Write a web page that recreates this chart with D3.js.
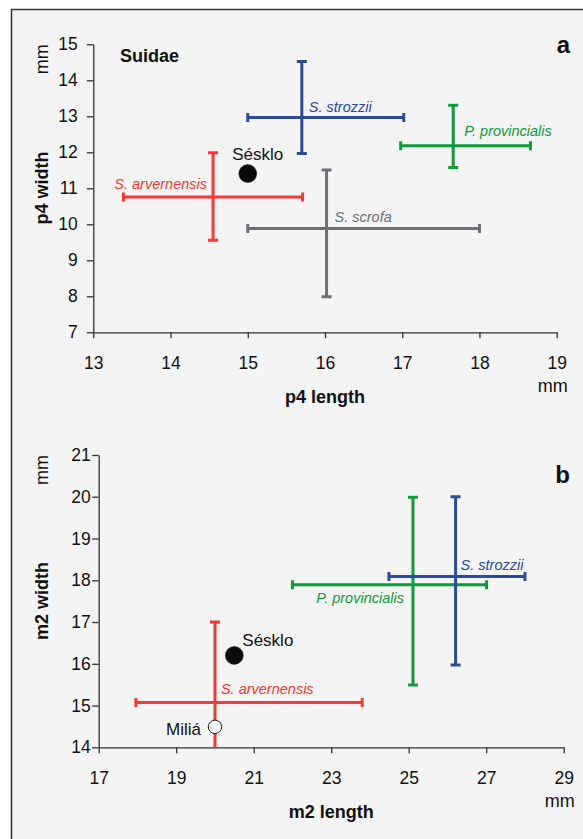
<!DOCTYPE html>
<html>
<head>
<meta charset="utf-8">
<script src="https://cdn.jsdelivr.net/npm/d3@7"></script>
<style>
  body { margin: 0; background: #fff; }
  text { font-family: "Liberation Sans", Arial, sans-serif; }
</style>
</head>
<body>
<div id="chart"></div>
<script>
// panel a : p4 (mean with range bars), mm
var speciesA = ["S. strozzii", "P. provincialis", "S. scrofa", "S. arvernensis"];
var lenMeanA = [15.70, 17.66, 16.02, 14.55];
var lenMinA  = [15.00, 16.98, 15.00, 13.39];
var lenMaxA  = [17.02, 18.66, 18.00, 15.71];
var widMeanA = [12.97, 12.18, 9.88, 10.76];
var widMinA  = [11.97, 11.58, 7.99, 9.56];
var widMaxA  = [14.52, 13.31, 11.51, 11.99];
var sitesA   = [{ name: "Sésklo", len: 15.0, wid: 11.41, open: false }];

// panel b : m2, mm
var speciesB = ["S. arvernensis", "P. provincialis", "S. strozzii"];
var lenMeanB = [20.0, 25.11, 26.21];
var lenMinB  = [17.96, 22.0, 24.49];
var lenMaxB  = [23.8, 27.01, 28.0];
var widMeanB = [15.07, 17.89, 18.09];
var widMinB  = [13.6, 15.49, 15.97];
var widMaxB  = [17.0, 19.99, 20.0];
var sitesB   = [{ name: "Sésklo", len: 20.5, wid: 16.2, open: false },
                { name: "Miliá", len: 20.0, wid: 14.49, open: true }];

var ticksXA = [13, 14, 15, 16, 17, 18, 19];
var ticksYA = [7, 8, 9, 10, 11, 12, 13, 14, 15];
var ticksXB = [17, 19, 21, 23, 25, 27, 29];
var ticksYB = [14, 15, 16, 17, 18, 19, 20, 21];

var colour = {
  "S. strozzii": "#2b4a98",
  "P. provincialis": "#0f9a3b",
  "S. scrofa": "#6c7178",
  "S. arvernensis": "#ff3535"
};

var W = 583, H = 839;
var svg = d3.select("#chart").append("svg")
  .attr("width", W).attr("height", H);

// frame
svg.append("rect")
  .attr("x", 11.5).attr("y", 9.5)
  .attr("width", 620).attr("height", 900)
  .attr("fill", "#f4f4f4")
  .attr("stroke", "#333").attr("stroke-width", 1.5);

function panel(p) {
  var x = d3.scaleLinear().domain(p.xDom).range([p.left, p.right]);
  var y = d3.scaleLinear().domain(p.yDom).range([p.bottom, p.top]);

  var g = svg.append("g");

  g.append("clipPath").attr("id", p.id + "clip")
    .append("rect")
    .attr("x", p.left).attr("y", p.top - 10)
    .attr("width", p.right - p.left + 10).attr("height", p.bottom - p.top + 10);

  // axes
  var ax = g.append("g")
    .attr("transform", "translate(0," + p.bottom + ")")
    .call(d3.axisBottom(x).tickValues(p.xTicks).tickFormat(d3.format("d"))
      .tickSize(6).tickSizeOuter(0).tickPadding(18.6));
  var ay = g.append("g")
    .attr("transform", "translate(" + p.left + ",0)")
    .call(d3.axisLeft(y).tickValues(p.yTicks).tickFormat(d3.format("d"))
      .tickSize(6.5).tickSizeOuter(0).tickPadding(p.yPad));
  [ax, ay].forEach(function(a) {
    a.selectAll("path, line").attr("stroke", "#333").attr("stroke-width", 1.3);
    a.selectAll("text").attr("fill", "#111")
      .style("font-size", "17.5px").style("font-family", "Liberation Sans, Arial, sans-serif");
  });

  // range bars
  var marks = g.append("g").attr("clip-path", "url(#" + p.id + "clip)");
  var cap = 4.5;
  p.species.forEach(function(s, i) {
    var c = colour[s];
    var gx = marks.append("g").attr("stroke", c).attr("stroke-width", 3).attr("fill", "none");
    // horizontal (length range)
    gx.append("line")
      .attr("x1", x(p.lenMin[i])).attr("x2", x(p.lenMax[i]))
      .attr("y1", y(p.widMean[i])).attr("y2", y(p.widMean[i]));
    [p.lenMin[i], p.lenMax[i]].forEach(function(v) {
      gx.append("line")
        .attr("x1", x(v)).attr("x2", x(v))
        .attr("y1", y(p.widMean[i]) - cap).attr("y2", y(p.widMean[i]) + cap);
    });
    // vertical (width range)
    gx.append("line")
      .attr("x1", x(p.lenMean[i])).attr("x2", x(p.lenMean[i]))
      .attr("y1", y(p.widMin[i])).attr("y2", y(p.widMax[i]));
    [p.widMin[i], p.widMax[i]].forEach(function(v) {
      gx.append("line")
        .attr("x1", x(p.lenMean[i]) - cap - 0.5).attr("x2", x(p.lenMean[i]) + cap + 0.5)
        .attr("y1", y(v)).attr("y2", y(v));
    });
    var o = p.labelPos[i];
    g.append("text")
      .attr("x", x(p.lenMean[i]) + o[0])
      .attr("y", y(p.widMean[i]) + o[1])
      .attr("text-anchor", o[2])
      .attr("fill", c)
      .style("font-style", "italic").style("font-size", "14.5px")
      .text(s);
  });

  // site points
  p.sites.forEach(function(d, i) {
    g.append("circle")
      .attr("cx", x(d.len)).attr("cy", y(d.wid))
      .attr("r", d.open ? 6.7 : 9)
      .attr("fill", d.open ? "#fff" : "#0a0a0a")
      .attr("stroke", "#222").attr("stroke-width", d.open ? 1 : 0.5);
    var o = p.sitePos[i];
    g.append("text")
      .attr("x", x(d.len) + o[0]).attr("y", y(d.wid) + o[1])
      .attr("text-anchor", o[2])
      .attr("fill", "#111").style("font-size", "17px")
      .text(d.name);
  });

  // axis titles
  var cx = (p.left + p.right) / 2;
  g.append("text").attr("x", cx).attr("y", p.bottom + 71)
    .attr("text-anchor", "middle").attr("fill", "#111")
    .style("font-weight", "bold").style("font-size", "18px")
    .text(p.xTitle);
  g.append("text").attr("x", p.right - 4).attr("y", p.bottom + 60)
    .attr("text-anchor", "middle").attr("fill", "#111").style("font-size", "18px")
    .text("mm");
  g.append("text")
    .attr("transform", "translate(48," + p.yTitleY + ") rotate(-90)")
    .attr("text-anchor", "middle").attr("fill", "#111")
    .style("font-weight", "bold").style("font-size", "18px")
    .text(p.yTitle);
  g.append("text")
    .attr("transform", "translate(48," + (p.top + 15) + ") rotate(-90)")
    .attr("text-anchor", "middle").attr("fill", "#111").style("font-size", "18px")
    .text("mm");
  g.append("text").attr("x", 570).attr("y", p.letterY)
    .attr("text-anchor", "end").attr("fill", "#111")
    .style("font-weight", "bold").style("font-size", "24px")
    .text(p.letter);
  if (p.group) {
    g.append("text").attr("x", 120).attr("y", 62)
      .attr("fill", "#111").style("font-weight", "bold").style("font-size", "18px")
      .text(p.group);
  }
}

panel({
  id: "a", letter: "a", letterY: 53, group: "Suidae",
  left: 93.3, right: 556.7, top: 44.3, bottom: 332.3,
  xDom: [13, 19], yDom: [7, 15], xTicks: ticksXA, yTicks: ticksYA, yPad: 9,
  xTitle: "p4 length", yTitle: "p4 width", yTitleY: 188,
  species: speciesA, lenMean: lenMeanA, lenMin: lenMinA, lenMax: lenMaxA,
  widMean: widMeanA, widMin: widMinA, widMax: widMaxA, sites: sitesA,
  labelPos: [[7, -5, "start"], [11, -10, "start"], [8, -7, "start"], [-6, -8, "end"]],
  sitePos: [[10, -14, "middle"]]
});

panel({
  id: "b", letter: "b", letterY: 483,
  left: 98.7, right: 563.7, top: 455, bottom: 747.3,
  xDom: [17, 29], yDom: [14, 21], xTicks: ticksXB, yTicks: ticksYB, yPad: 1.5,
  xTitle: "m2 length", yTitle: "m2 width", yTitleY: 601,
  species: speciesB, lenMean: lenMeanB, lenMin: lenMinB, lenMax: lenMaxB,
  widMean: widMeanB, widMin: widMinB, widMax: widMaxB, sites: sitesB,
  labelPos: [[6, -9, "start"], [-9, 18, "end"], [5, -7, "start"]],
  sitePos: [[8, -9, "start"], [-14, 8, "end"]]
});
</script>
</body>
</html>
